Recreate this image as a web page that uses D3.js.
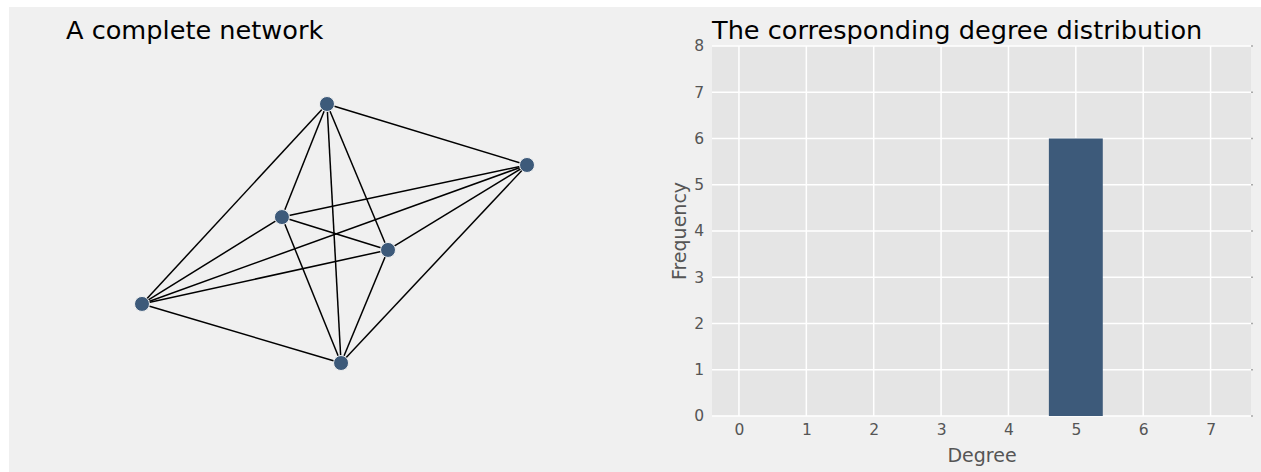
<!DOCTYPE html>
<html><head><meta charset="utf-8">
<script src="https://cdn.jsdelivr.net/npm/d3@7"></script>
<style>
html,body{margin:0;padding:0;background:#fff;}
svg{display:block;font-family:"DejaVu Sans",sans-serif;}
</style></head>
<body>
<svg id="chart" width="1261" height="472"></svg>
<script>
// Network layout (normalized coordinates)
const nodeIds = ["a","b","c","d","e","f"];
const nodeX = [-0.039, 1.0, -0.273, 0.278, -1.0, 0.034];
const nodeY = [1.0, 0.529, 0.127, -0.127, -0.544, -1.0];
// Degree distribution
const degrees = [0,1,2,3,4,5,6,7];
const frequency = [0,0,0,0,0,6,0,0];
const yTicks = [0,1,2,3,4,5,6,7,8];

const svg = d3.select("#chart");
svg.append("rect").attr("x",9).attr("y",7).attr("width",1252).attr("height",465).attr("fill","#f0f0f0");

// Left: network
const nx = d3.scaleLinear().domain([-1,1]).range([142,527]);
const ny = d3.scaleLinear().domain([-1,1]).range([363,104]);
svg.append("text").attr("x",66).attr("y",39).attr("font-size",25.6).attr("fill","#000").text("A complete network");
const nodes = nodeIds.map((id,i)=>({id,x:nodeX[i],y:nodeY[i]}));
const edges = [];
for(let i=0;i<nodes.length;i++) for(let j=i+1;j<nodes.length;j++) edges.push([nodes[i],nodes[j]]);
const g1 = svg.append("g");
g1.selectAll("line").data(edges).join("line")
  .attr("x1",d=>nx(d[0].x)).attr("y1",d=>ny(d[0].y))
  .attr("x2",d=>nx(d[1].x)).attr("y2",d=>ny(d[1].y))
  .attr("stroke","#000").attr("stroke-width",1.5);
g1.selectAll("circle").data(nodes).join("circle")
  .attr("cx",d=>nx(d.x)).attr("cy",d=>ny(d.y)).attr("r",7.5)
  .attr("fill","#3d5a7a").attr("stroke","#f0f0f0").attr("stroke-width",1);

// Right: histogram
const L=712,R=1251,T=46,B=416;
const x = d3.scaleLinear().domain([-0.4,7.6]).range([L,R]);
const y = d3.scaleLinear().domain([0,8]).range([B,T]);
const g2 = svg.append("g");
g2.append("rect").attr("x",L).attr("y",T).attr("width",R-L).attr("height",B-T).attr("fill","#e5e5e5");
g2.selectAll("line.gx").data(degrees).join("line").attr("class","gx")
  .attr("x1",d=>x(d)).attr("x2",d=>x(d)).attr("y1",T).attr("y2",B)
  .attr("stroke","#fff").attr("stroke-width",1.5);
g2.selectAll("line.gy").data(yTicks).join("line").attr("class","gy")
  .attr("x1",L).attr("x2",R).attr("y1",d=>y(d)).attr("y2",d=>y(d))
  .attr("stroke","#fff").attr("stroke-width",1.5);
g2.selectAll("rect.bar").data(degrees.map((d,i)=>({d,f:frequency[i]})).filter(o=>o.f>0)).join("rect").attr("class","bar")
  .attr("x",o=>x(o.d-0.4)).attr("width",o=>x(o.d+0.4)-x(o.d-0.4))
  .attr("y",o=>y(o.f)).attr("height",o=>y(0)-y(o.f))
  .attr("fill","#3d5a7a");
// small ticks at right edge
g2.selectAll("line.rt").data(yTicks).join("line").attr("class","rt")
  .attr("x1",R).attr("x2",R+2).attr("y1",d=>y(d)).attr("y2",d=>y(d))
  .attr("stroke","#aaa").attr("stroke-width",1.5);
const xAxis = d3.axisBottom(x).tickValues(degrees).tickSize(0).tickPadding(8);
const gx = svg.append("g").attr("transform",`translate(0,${B})`).call(xAxis);
gx.attr("font-size",null).attr("font-family",null);
gx.select(".domain").remove();
gx.selectAll("text").style("font-size","15.5px").attr("fill","#555").style("font-family","DejaVu Sans");
const yAxis = d3.axisLeft(y).tickValues(yTicks).tickSize(0).tickPadding(8);
const gy = svg.append("g").attr("transform",`translate(${L},0)`).call(yAxis);
gy.attr("font-size",null).attr("font-family",null);
gy.select(".domain").remove();
gy.selectAll("text").style("font-size","15.5px").attr("fill","#555").style("font-family","DejaVu Sans");
svg.append("text").attr("x",982).attr("y",462).attr("text-anchor","middle").attr("font-size",19).attr("fill","#555").text("Degree");
svg.append("text").attr("transform","translate(686,231) rotate(-90)").attr("text-anchor","middle").attr("font-size",19).attr("fill","#555").text("Frequency");
svg.append("text").attr("x",712).attr("y",39).attr("font-size",25.6).attr("fill","#000").text("The corresponding degree distribution");
</script>
</body></html>
